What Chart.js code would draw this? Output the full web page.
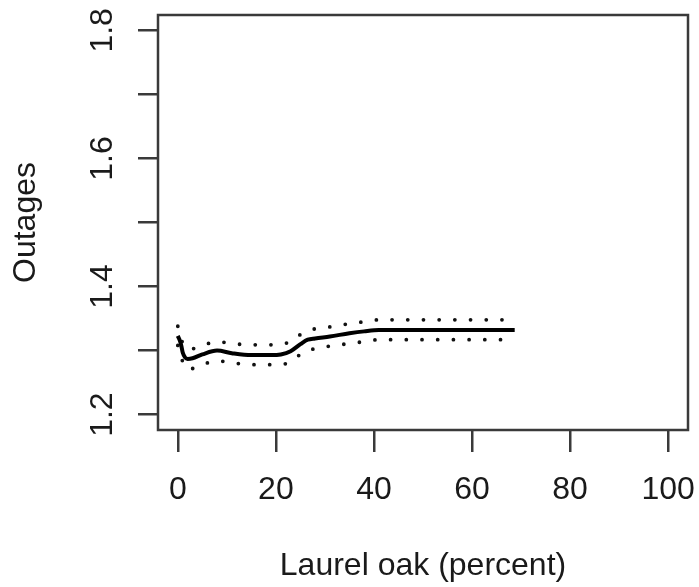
<!DOCTYPE html>
<html lang="en">
<head>
  <meta charset="UTF-8" />
  <title>Outages vs Laurel oak</title>
  <script src="https://cdn.jsdelivr.net/npm/chart.js"></script>
  <style>
    html, body { margin: 0; padding: 0; background: #fff; }
    #chart { display: block; }
  </style>
</head>
<body>
  <canvas id="chart" width="699" height="587"></canvas>

  <script>
    // laurel oak percent (x) and fitted outages with its band
    const oakPct = [0, 0.4, 0.7, 1.0, 1.5, 2, 3, 5, 8, 11, 15, 19, 21, 23, 25, 26.5, 28, 31, 35, 38, 41, 45, 50, 55, 60, 65, 68.7];
    const fitted = [1.323, 1.316, 1.308, 1.297, 1.289, 1.287, 1.288, 1.294, 1.300, 1.296, 1.293, 1.293, 1.294, 1.299, 1.310, 1.317, 1.319, 1.322, 1.327, 1.330, 1.332, 1.332, 1.332, 1.332, 1.332, 1.332, 1.332];
    const upper  = [1.338, 1.328, 1.318, 1.312, 1.305, 1.303, 1.303, 1.308, 1.314, 1.311, 1.309, 1.309, 1.310, 1.314, 1.325, 1.331, 1.334, 1.337, 1.342, 1.345, 1.348, 1.348, 1.348, 1.348, 1.348, 1.348, 1.348];
    const lower  = [1.308, 1.300, 1.292, 1.282, 1.274, 1.271, 1.272, 1.278, 1.284, 1.281, 1.278, 1.278, 1.278, 1.283, 1.294, 1.300, 1.303, 1.307, 1.311, 1.314, 1.317, 1.317, 1.317, 1.317, 1.317, 1.317, 1.317];

    const xTicks = [0, 20, 40, 60, 80, 100];
    const xTickLabels = ['0', '20', '40', '60', '80', '100'];
    const yTicks = [1.2, 1.3, 1.4, 1.5, 1.6, 1.7, 1.8];
    const yTickLabels = ['1.2', '', '1.4', '', '1.6', '', '1.8'];

    const FONT = '32px "Liberation Sans", Arial, sans-serif';
    const INK = '#1a1a1a';
    const FRAME = '#3a3a3a';

    const pts = ys => oakPct.map((x, i) => ({ x, y: ys[i] }));

    // R style box, tick labels and axis titles
    const rStyle = {
      id: 'rStyle',
      afterDraw(chart) {
        const { ctx, chartArea: a, scales } = chart;
        ctx.save();
        ctx.strokeStyle = FRAME;
        ctx.lineWidth = 2.5;
        ctx.strokeRect(a.left, a.top, a.right - a.left, a.bottom - a.top);

        ctx.fillStyle = INK;
        ctx.font = FONT;
        ctx.textAlign = 'center';
        ctx.textBaseline = 'alphabetic';

        xTicks.forEach((v, i) => {
          ctx.fillText(xTickLabels[i], scales.x.getPixelForValue(v), 499);
        });
        ctx.fillText('Laurel oak (percent)', (a.left + a.right) / 2, 575);

        yTicks.forEach((v, i) => {
          if (!yTickLabels[i]) return;
          ctx.save();
          ctx.translate(112, scales.y.getPixelForValue(v));
          ctx.rotate(-Math.PI / 2);
          ctx.fillText(yTickLabels[i], 0, 0);
          ctx.restore();
        });

        ctx.save();
        ctx.translate(35, (a.top + a.bottom) / 2);
        ctx.rotate(-Math.PI / 2);
        ctx.fillText('Outages', 0, 0);
        ctx.restore();

        ctx.restore();
      }
    };

    const dotted = {
      borderColor: '#111',
      borderWidth: 3.8,
      borderDash: [0, 15.7],
      borderCapStyle: 'round',
      pointRadius: 0,
      fill: false,
      cubicInterpolationMode: 'monotone'
    };

    new Chart(document.getElementById('chart'), {
      type: 'line',
      data: {
        datasets: [
          {
            label: 'Outages',
            data: pts(fitted),
            borderColor: '#000',
            borderWidth: 4,
            pointRadius: 0,
            fill: false,
            cubicInterpolationMode: 'monotone'
          },
          { label: 'upper', data: pts(upper), ...dotted },
          { label: 'lower', data: pts(lower), ...dotted }
        ]
      },
      options: {
        responsive: false,
        animation: false,
        layout: { padding: { top: 15, right: 11, left: 0, bottom: 0 } },
        plugins: { legend: { display: false }, tooltip: { enabled: false } },
        scales: {
          x: {
            type: 'linear',
            min: -4.04,
            max: 104.04,
            afterBuildTicks: s => { s.ticks = xTicks.map(v => ({ value: v })); },
            afterFit: s => { s.height = 157; },
            ticks: { display: false },
            border: { display: false },
            grid: { drawOnChartArea: false, drawTicks: true, tickLength: 22, color: FRAME, tickColor: FRAME, lineWidth: 2.5 }
          },
          y: {
            type: 'linear',
            min: 1.176,
            max: 1.824,
            afterBuildTicks: s => { s.ticks = yTicks.map(v => ({ value: v })); },
            afterFit: s => { s.width = 158; },
            ticks: { display: false },
            border: { display: false },
            grid: { drawOnChartArea: false, drawTicks: true, tickLength: 20, color: FRAME, tickColor: FRAME, lineWidth: 2.5 }
          }
        }
      },
      plugins: [rStyle]
    });
  </script>
</body>
</html>
